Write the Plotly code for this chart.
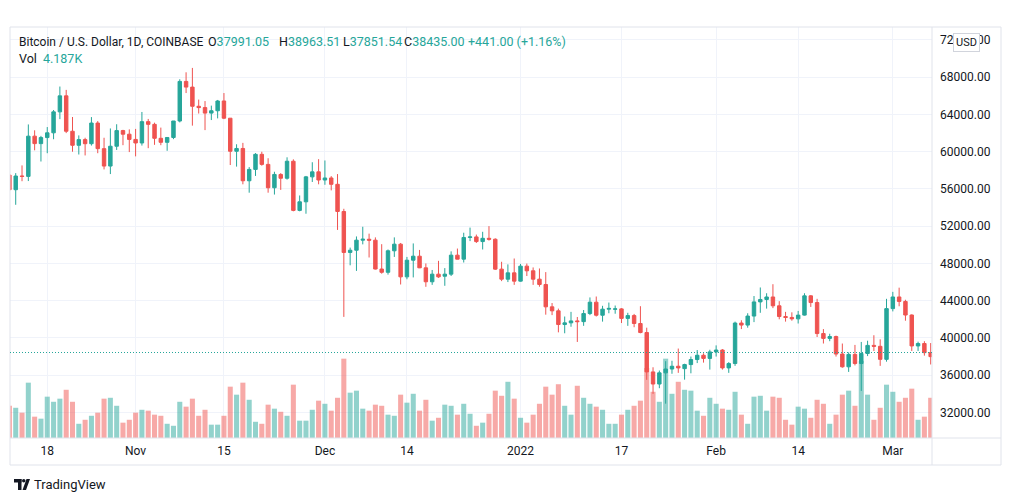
import pandas as pd
import plotly.graph_objects as go

# ---------------- data ----------------
start_date = "2021-10-12"

opens = [57490, 55920, 57390, 57350, 61670, 60870, 61520, 62030, 64280, 66000,
         62200, 60690, 61300, 60860, 63080, 60330, 58460, 60590, 62270, 61880,
         61320, 60940, 63230, 62940, 61440, 61010, 61530, 63300, 67550, 66940,
         64880, 64740, 64150, 64400, 65450, 63600, 60050, 60350, 56880, 58100,
         59720, 58640, 56130, 57560, 57150, 58980, 53700, 54620, 57300, 57840,
         56960, 57180, 56500, 53580, 49180, 49420, 50500, 50600, 50500, 47400,
         47050, 49360, 50070, 46560, 48350, 48780, 47530, 46030, 46850, 46630,
         46850, 48890, 48460, 50790, 50850, 50350, 50700, 50600, 47390, 46310,
         46990, 46100, 47710, 47210, 46310, 45740, 43340, 42910, 41440, 41620,
         41830, 41750, 42620, 43840, 42440, 43090, 43080, 43120, 42100, 42400,
         41550, 40580, 36350, 35050, 36250, 36660, 36960, 36700, 37140, 37680,
         38140, 37800, 38500, 38700, 36780, 37250, 41600, 41380, 42350, 43870,
         44130, 44400, 43450, 42300, 42200, 42050, 42450, 44520, 43800, 40470,
         39950, 40150, 38270, 36900, 38230, 37250, 38330, 39200, 39100, 37700,
         43150, 44400, 43920, 42460, 39140, 39400, 38420]
highs = [57680, 57700, 58530, 62930, 62300, 61700, 62650, 64480, 67000, 66640,
         63730, 61750, 61500, 63720, 63290, 61500, 62500, 62950, 62350, 62400,
         62450, 64270, 63520, 63120, 62590, 61550, 63300, 67780, 68530, 69000,
         65600, 65440, 64950, 65560, 66300, 63600, 60800, 60950, 58350, 59850,
         60000, 59300, 57850, 57700, 59400, 59180, 55300, 57400, 58870, 59200,
         59060, 57380, 57600, 53870, 49700, 50900, 51940, 51200, 50800, 50070,
         49500, 50800, 50200, 48700, 50150, 49450, 48000, 47300, 48280, 47500,
         49300, 49600, 51300, 51850, 51100, 51400, 52010, 50700, 48180, 47900,
         48530, 47950, 47990, 47570, 47460, 47070, 43750, 43150, 42300, 42800,
         42250, 43000, 44350, 44450, 43450, 43800, 43480, 43200, 42700, 42580,
         43410, 41100, 36850, 36500, 37500, 37550, 38860, 37230, 38000, 38700,
         38350, 38730, 39200, 38800, 37400, 41750, 41900, 42650, 44500, 45420,
         44800, 45770, 43950, 42800, 42750, 42900, 44800, 44600, 44200, 40950,
         40450, 40250, 39400, 38450, 39250, 39570, 39700, 40290, 39850, 44200,
         44950, 45400, 44100, 42530, 39600, 39650, 39450]
lows = [53880, 54300, 56830, 56850, 60150, 58950, 59840, 61340, 63500, 62000,
        60000, 59700, 59600, 60660, 59840, 58100, 57600, 60190, 60700, 59960,
        59500, 60660, 60380, 60740, 60700, 60100, 61350, 63150, 66300, 62800,
        64100, 62320, 63400, 63580, 63500, 58570, 58400, 56500, 55600, 57400,
        58500, 55600, 55400, 55900, 57000, 53600, 53600, 53340, 56750, 56500,
        56450, 55850, 51600, 42260, 47800, 47200, 50050, 48640, 47350, 46900,
        46800, 48700, 45740, 46300, 46500, 47500, 45490, 45700, 46450, 45600,
        46650, 48450, 48100, 50400, 50200, 49500, 50450, 47300, 46100, 46000,
        45700, 46050, 46650, 45700, 45500, 42500, 42450, 40600, 40500, 41200,
        39570, 41300, 42450, 42300, 41750, 42650, 42600, 41600, 41300, 41150,
        40500, 35500, 34000, 34600, 32940, 36150, 36250, 35520, 36200, 37300,
        37350, 36600, 38000, 36600, 36250, 37000, 40950, 41100, 41700, 42700,
        43150, 43200, 42000, 41750, 41850, 41550, 42400, 43330, 40100, 39400,
        39650, 38000, 36800, 36350, 37050, 34310, 38050, 38600, 37000, 37450,
        42850, 43400, 41850, 38600, 38600, 38100, 37150]
closes = [55920, 57390, 57350, 61670, 60870, 61520, 62030, 64280, 66000, 62200,
          60690, 61300, 60860, 63080, 60330, 58460, 60590, 62270, 61880, 61320,
          60940, 63230, 62940, 61440, 61010, 61530, 63300, 67550, 66940, 64880,
          64740, 64150, 64400, 65450, 63600, 60050, 60350, 56880, 58100, 59720,
          58640, 56130, 57560, 57150, 58980, 53700, 54620, 57300, 57840, 56960,
          57180, 56500, 53580, 49180, 49420, 50500, 50600, 50500, 47400, 47050,
          49360, 50070, 46560, 48350, 48780, 47530, 46030, 46850, 46560, 46850,
          48890, 48460, 50790, 50850, 50350, 50700, 50600, 47390, 46310, 46990,
          46100, 47710, 47210, 46310, 45740, 43340, 42910, 41440, 41620, 41830,
          41750, 42620, 43840, 42440, 43090, 43170, 43120, 42100, 42400, 41550,
          40580, 36350, 35050, 36250, 36660, 36960, 36780, 37140, 37680, 38140,
          37800, 38500, 38700, 36780, 37250, 41600, 41380, 42350, 43870, 44130,
          44400, 43450, 42300, 42200, 42050, 42450, 44520, 43800, 40470, 39950,
          40150, 38270, 36900, 38230, 37250, 38330, 39200, 39100, 37700, 43150,
          44400, 43920, 42460, 39140, 39400, 38420, 37990]
# volume in thousands of BTC
volumes = [14.5, 13.6, 11.4, 24.9, 9.6, 8.7, 18.6, 16.3, 17.7, 21.7,
           16.3, 6.4, 8.2, 10.0, 11.4, 17.7, 18.1, 14.5, 6.9, 8.2,
           11.4, 12.7, 12.3, 10.5, 10.0, 6.4, 5.5, 16.3, 14.1, 17.7,
           10.0, 12.7, 6.0, 6.0, 10.0, 23.1, 19.5, 24.9, 17.2, 7.3,
           6.4, 15.0, 13.2, 11.8, 10.0, 24.0, 7.8, 7.8, 12.7, 16.8,
           15.4, 12.3, 18.1, 35.7, 20.4, 21.3, 13.2, 12.3, 15.0, 14.5,
           10.5, 10.0, 19.5, 15.9, 19.9, 12.3, 17.2, 7.8, 9.1, 15.0,
           14.5, 10.5, 15.4, 10.9, 5.5, 6.9, 10.9, 21.3, 19.0, 25.3,
           17.7, 9.1, 6.9, 10.5, 15.4, 23.1, 19.5, 24.2, 14.5, 10.5,
           23.5, 18.1, 15.4, 14.1, 12.7, 6.4, 6.4, 10.5, 12.7, 14.5,
           16.8, 31.5, 20.8, 16.3, 35.7, 19.9, 25.3, 21.7, 21.3, 12.3,
           10.0, 18.1, 15.4, 13.2, 12.7, 20.8, 10.5, 6.4, 18.6, 19.0,
           12.3, 18.6, 18.1, 8.2, 6.0, 14.1, 13.2, 9.1, 17.2, 15.4,
           6.4, 10.5, 19.5, 21.3, 14.5, 34.7, 19.5, 8.2, 13.6, 24.0,
           20.8, 16.3, 18.1, 22.2, 8.2, 9.6, 18.1]

price_ticks = [32000, 36000, 40000, 44000, 48000, 52000, 56000, 60000, 64000, 68000, 72000]
date_ticks = ["2021-10-18", "2021-11-01", "2021-11-15", "2021-12-01", "2021-12-14",
              "2022-01-01", "2022-01-17", "2022-02-01", "2022-02-14", "2022-03-01"]
date_tick_labels = ["18", "Nov", "15", "Dec", "14", "2022", "17", "Feb", "14", "Mar"]
last_price = 38435.00

# ---------------- styling ----------------
UP = "#26a69a"
DOWN = "#ef5350"
UP_VOL = "rgba(38,166,154,0.5)"
DOWN_VOL = "rgba(239,83,80,0.5)"
GRID = "#f0f3fa"
BORDER = "#e0e3eb"
TXT = "#131722"
FONT = "Roboto"

dates = pd.date_range(start_date, periods=len(closes), freq="D")
vol_colors = [UP_VOL if c >= o else DOWN_VOL for o, c in zip(opens, closes)]

# plot area in pixels
PL, PR, PT, PB = 10, 932, 27, 438
W, H = PR - PL, PB - PT


def px(X):
    return (X - PL) / W


def py(Y):
    return (PB - Y) / H


fig = go.Figure()
fig.add_trace(go.Bar(x=dates, y=volumes, marker=dict(color=vol_colors, line=dict(width=0)),
                     yaxis="y", hoverinfo="skip", showlegend=False))
fig.add_trace(go.Candlestick(
    x=dates, open=opens, high=highs, low=lows, close=closes, yaxis="y2",
    increasing=dict(line=dict(color=UP, width=1), fillcolor=UP),
    decreasing=dict(line=dict(color=DOWN, width=1), fillcolor=DOWN),
    whiskerwidth=0, showlegend=False))

vol_scale = 0.45  # thousand BTC per pixel
fig.update_layout(
    width=1012, height=501,
    margin=dict(l=PL, r=1012 - PR, t=PT, b=501 - PB),
    paper_bgcolor="white", plot_bgcolor="white",
    font=dict(family=FONT, size=12, color=TXT),
    bargap=0.2, boxgap=0.22,
    xaxis=dict(type="date", range=["2021-10-12 02:17", "2022-03-07 05:00"],
               tickvals=date_ticks, ticktext=date_tick_labels,
               showgrid=True, gridcolor=GRID, gridwidth=1, zeroline=False,
               showline=False, ticks="", ticklabelstandoff=4,
               tickfont=dict(family=FONT, size=12, color=TXT),
               rangeslider=dict(visible=False), automargin=False),
    yaxis=dict(range=[0, H * vol_scale], visible=False, showgrid=False,
               fixedrange=True),
    yaxis2=dict(overlaying="y", side="right", range=[29253, 73395],
                tickvals=price_ticks, ticktext=[f"{v:.2f}" for v in price_ticks],
                showgrid=True, gridcolor=GRID, gridwidth=1, zeroline=False,
                showline=False, ticks="", ticklabelstandoff=7,
                tickfont=dict(family=FONT, size=12, color=TXT), automargin=False),
)

shapes = [
    # outer frame
    dict(type="rect", xref="paper", yref="paper", x0=px(10), x1=px(1001), y0=py(465), y1=py(27),
         line=dict(color=BORDER, width=1), fillcolor="rgba(0,0,0,0)", layer="above"),
    # price scale separator
    dict(type="line", xref="paper", yref="paper", x0=1, x1=1, y0=py(465), y1=1,
         line=dict(color=BORDER, width=1)),
    # time scale separator
    dict(type="line", xref="paper", yref="paper", x0=0, x1=px(1001), y0=0, y1=0,
         line=dict(color=BORDER, width=1)),
    # last price line
    dict(type="line", xref="paper", yref="y2", x0=0, x1=1, y0=last_price, y1=last_price,
         line=dict(color=UP, width=1, dash="1px,2px")),
    # TradingView logo
    dict(type="rect", xref="paper", yref="paper", x0=px(14), x1=px(21.5), y0=py(482.5), y1=py(479),
         fillcolor=TXT, line=dict(width=0)),
    dict(type="rect", xref="paper", yref="paper", x0=px(18), x1=px(21.5), y0=py(490), y1=py(479),
         fillcolor=TXT, line=dict(width=0)),
    dict(type="circle", xref="paper", yref="paper", x0=px(22), x1=px(25.5), y0=py(482.5), y1=py(479),
         fillcolor=TXT, line=dict(width=0)),
    dict(type="path", xref="paper", yref="paper",
         path=f"M {px(26.5)} {py(479)} L {px(30)} {py(479)} L {px(26)} {py(490)} L {px(22.5)} {py(490)} Z",
         fillcolor=TXT, line=dict(width=0)),
]
fig.update_layout(shapes=shapes)

teal = lambda s: f"<span style='color:{UP}'>{s}</span>"
ann = [
    (18, 41.5, "Bitcoin / U.S. Dollar, 1D, COINBASE", 12),
    (207, 41.5, "O" + teal("37991.05"), 12.5),
    (278, 41.5, "H" + teal("38963.51"), 12.5),
    (341.5, 41.5, "L" + teal("37851.54"), 12.5),
    (403, 41.5, "C" + teal("38435.00"), 12.5),
    (466.5, 41.5, teal("+441.00 (+1.16%)"), 12.5),
    (18, 58.5, "Vol", 12.5),
    (41.5, 58.5, teal("4.187K"), 12.5),
    (33, 484.5, "TradingView", 13),
]
annotations = [dict(xref="paper", yref="paper", x=px(X), y=py(Y), text=t, showarrow=False,
                    xanchor="left", yanchor="middle", borderpad=0,
                    font=dict(family=FONT, size=s, color=TXT)) for X, Y, t, s in ann]
annotations.append(dict(xref="paper", yref="paper", x=px(966.5), y=py(42.5), text="USD",
                        showarrow=False, xanchor="center", yanchor="middle",
                        bgcolor="white", bordercolor="#d1d4dc", borderwidth=1, borderpad=2,
                        font=dict(family=FONT, size=11, color=TXT)))
fig.update_layout(annotations=annotations)

fig.write_html("out.html", config={"displayModeBar": False},
               post_script="document.body.style.margin='0';document.body.style.overflow='hidden';")
